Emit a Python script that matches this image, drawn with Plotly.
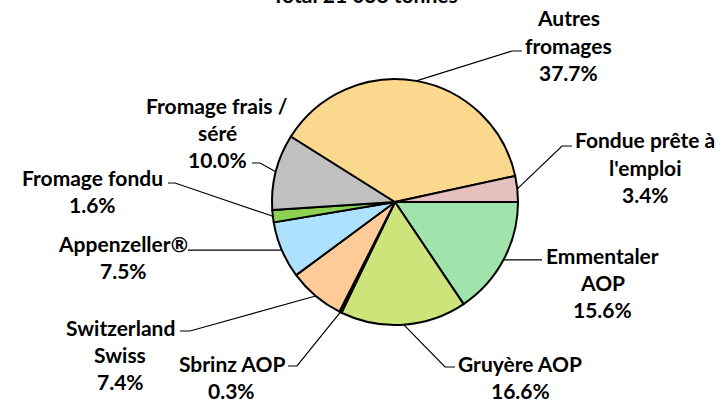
import math
import plotly.graph_objects as go

# ---- data ----
categories = ["Emmentaler AOP", "Gruyère AOP", "Sbrinz AOP", "Switzerland Swiss",
              "Appenzeller®", "Fromage fondu", "Fromage frais / séré",
              "Autres fromages", "Fondue prête à l'emploi"]
shares = [15.6, 16.6, 0.3, 7.4, 7.5, 1.6, 10.0, 37.7, 3.4]
label_lines = [["Emmentaler", "AOP", "15.6%"],
               ["Gruyère AOP", "16.6%"],
               ["Sbrinz AOP", "0.3%"],
               ["Switzerland", "Swiss", "7.4%"],
               ["Appenzeller®", "7.5%"],
               ["Fromage fondu", "1.6%"],
               ["Fromage frais /", "séré", "10.0%"],
               ["Autres", "fromages", "37.7%"],
               ["Fondue prête à", "l'emploi", "3.4%"]]
colors = ["#A0E3AB", "#CDE47A", "#1A1A1A", "#FFCC99", "#AEE1FD",
          "#8DD152", "#C0C0C0", "#FAD98E", "#E6C0BF"]
title_text = "Total 21 038 tonnes"

# ---- layout settings (pixels) ----
W, H = 728, 403
CX, CY, R = 395, 202, 123
# per label: (elbow_x, elbow_y or None, end_x, text_center_x, first_line_y)
label_layout = [
    (None, None, 542, 602, 255),
    (445, 367, 455, 520, 363),
    (297, 366, 288, 232, 363),
    (190, 331, 180, 120, 327),
    (None, None, 188, 123, 243),
    (175, 183, 168, 92, 177),
    (260, 163, 252, 217, 105),
    (512, 51, 522, 568, 18),
    (562, 146, 572, 645, 140),
]
LINE_STEP = 27
FONT = dict(family="Lato, Arial, sans-serif", size=21, color="black")


def px(x):
    return x / W


def py(y):
    return 1 - y / H


fig = go.Figure(go.Pie(
    labels=categories, values=shares, sort=False,
    direction="clockwise", rotation=90,
    marker=dict(colors=colors, line=dict(color="black", width=2)),
    textinfo="none", hoverinfo="label+percent",
    domain=dict(x=[px(CX - R), px(CX + R)], y=[py(CY + R), py(CY - R)]),
    showlegend=False,
))

total = sum(shares)
cum = 0.0
shapes = []
annotations = []
for val, lines, (ex, ey, endx, tx, ty) in zip(shares, label_lines, label_layout):
    mid = (cum + val / 2) / total * 2 * math.pi
    cum += val
    sx = CX + R * math.cos(mid)
    sy = CY + R * math.sin(mid)
    if ex is None:
        path = f"M {px(sx)},{py(sy)} L {px(endx)},{py(sy)}"
    else:
        path = (f"M {px(sx)},{py(sy)} L {px(ex)},{py(ey)} "
                f"L {px(endx)},{py(ey)}")
    shapes.append(dict(type="path", path=path, xref="paper", yref="paper",
                       line=dict(color="black", width=1.2)))
    for i, t in enumerate(lines):
        annotations.append(dict(
            text=f"<b>{t}</b>", x=px(tx), y=py(ty + i * LINE_STEP),
            xref="paper", yref="paper", xanchor="center", yanchor="middle",
            showarrow=False, font=FONT))

annotations.append(dict(text=f"<b>{title_text}</b>", x=px(365), y=py(-5),
                        xref="paper", yref="paper", xanchor="center",
                        yanchor="middle", showarrow=False, font=FONT))

fig.update_layout(width=W, height=H, margin=dict(l=0, r=0, t=0, b=0),
                  paper_bgcolor="white", plot_bgcolor="white",
                  shapes=shapes, annotations=annotations)

fig.write_html("out.html", config={"displayModeBar": False},
               post_script="document.body.style.margin='0';"
                           "document.body.style.overflow='hidden';")
